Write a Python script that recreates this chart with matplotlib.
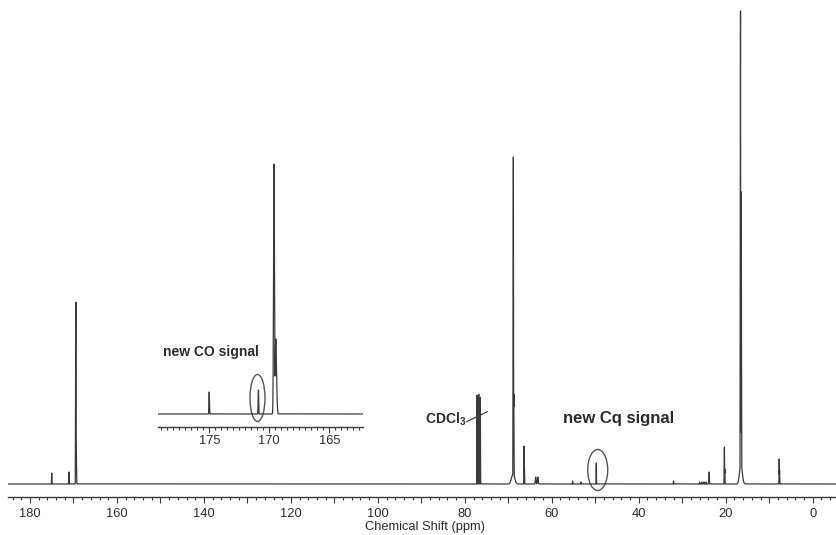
import numpy as np
import matplotlib
matplotlib.use("Agg")
import matplotlib.pyplot as plt
from matplotlib.patches import Ellipse
from matplotlib.ticker import MultipleLocator, FuncFormatter
from matplotlib.lines import Line2D

plt.rcParams['font.family'] = ['Liberation Sans', 'DejaVu Sans']
plt.rcParams['mathtext.fontset'] = 'custom'
plt.rcParams['mathtext.rm'] = 'Liberation Sans'
plt.rcParams['mathtext.bf'] = 'Liberation Sans:bold'

# ---- data (ppm, relative intensity) ----
peak_ppm = [175.0, 171.0, 169.45, 169.35,
            77.19, 76.80, 76.43,
            68.84, 68.74, 68.9,
            66.38, 66.30,
            63.7, 63.2, 55.2, 53.3,
            49.76,
            32.0, 26.0, 25.5, 25.0, 24.5, 23.8,
            20.3, 20.22,
            16.6, 16.42, 16.5,
            7.7, 7.62]
peak_height = [11, 12, 182, 35,
               89, 90, 87,
               327, 90, 10,
               38, 17,
               7, 7, 3, 2,
               21,
               3, 2, 2, 2, 2, 12,
               37, 15,
               473, 292, 20,
               25, 14]
peak_width = [0.03, 0.03, 0.04, 0.05,
              0.03, 0.03, 0.03,
              0.04, 0.05, 0.35,
              0.03, 0.04,
              0.08, 0.08, 0.03, 0.03,
              0.03,
              0.03, 0.03, 0.03, 0.03, 0.03, 0.04,
              0.03, 0.04,
              0.04, 0.05, 0.3,
              0.03, 0.04]

inset_ppm = [175.0, 170.9, 169.6, 169.45]
inset_height = [22, 24, 250, 75]
inset_width = [0.02, 0.02, 0.04, 0.06]

main_ticks_labels = [180, 160, 140, 120, 100, 80, 60, 40, 20, 0]
inset_tick_labels = [175, 170, 165]

W, H = 836, 535
col = '#3a3a3a'
tcol = '#2b2b2b'

def spectrum(x, ppm, hts, wds):
    y = np.zeros_like(x)
    for p, h, w in zip(ppm, hts, wds):
        y = np.maximum(y, h * np.exp(-0.5 * ((x - p) / w) ** 2))
    return y

fig = plt.figure(figsize=(W / 100, H / 100), dpi=100)

# ---- main axes ----
ax = fig.add_axes([8 / W, 38 / H, 828 / W, 497 / H])
ax.patch.set_alpha(0)
x = np.arange(-5.5, 185.2, 0.004)
ax.plot(x, spectrum(x, peak_ppm, peak_height, peak_width), color=col, lw=0.9)
ax.set_xlim(185.06, -5.36)
ax.set_ylim(-13, 484)
for s in ['top', 'left', 'right']:
    ax.spines[s].set_visible(False)
ax.spines['bottom'].set_color(col)
ax.spines['bottom'].set_linewidth(1.0)
ax.set_yticks([])
ax.xaxis.set_major_locator(MultipleLocator(10))
ax.xaxis.set_minor_locator(MultipleLocator(2))
ax.xaxis.set_major_formatter(FuncFormatter(
    lambda v, p: f"{int(round(v))}" if int(round(v)) in main_ticks_labels else ""))
ax.tick_params(axis='x', which='major', length=4.5, width=0.8, color=col,
               labelsize=9.3, labelcolor=tcol, pad=3.2)
ax.tick_params(axis='x', which='minor', length=2.3, width=0.8, color=col)
ax.set_xlabel("Chemical Shift (ppm)", fontsize=9.3, color=tcol, va='center')
ax.xaxis.set_label_coords((425 - 8) / 828, -30 / 497)

# Cq ellipse
ax.add_patch(Ellipse((49.44, 14), 4.6, 41, fill=False, edgecolor='#555555', lw=1.0))

# ---- inset axes ----
ia = fig.add_axes([158 / W, 108 / H, 205 / W, 277 / H])
ia.patch.set_alpha(0)
xi = np.arange(162.0, 179.5, 0.004)
ia.plot(xi, spectrum(xi, inset_ppm, inset_height, inset_width), color=col, lw=0.9)
ia.set_xlim(179.27, 162.19)
ia.set_ylim(-13, 264)
for s in ['top', 'left', 'right']:
    ia.spines[s].set_visible(False)
ia.spines['bottom'].set_color(col)
ia.spines['bottom'].set_linewidth(1.0)
ia.set_yticks([])
ia.xaxis.set_major_locator(MultipleLocator(5))
ia.xaxis.set_minor_locator(MultipleLocator(0.5))
ia.xaxis.set_major_formatter(FuncFormatter(
    lambda v, p: f"{int(round(v))}" if int(round(v)) in inset_tick_labels else ""))
ia.tick_params(axis='x', which='major', length=4, width=0.8, color=col,
               labelsize=9.3, labelcolor=tcol, pad=1.5)
ia.tick_params(axis='x', which='minor', length=2.3, width=0.8, color=col)
ia.add_patch(Ellipse((170.98, 16), 1.25, 47, fill=False, edgecolor='#555555', lw=1.0))

# ---- annotations ----
def fx(px):
    return px / W

def fy(py):
    return 1 - py / H

fig.text(fx(163), fy(352), "new CO signal", fontsize=10, fontweight='bold',
         color=tcol, ha='left', va='center')
fig.text(fx(619), fy(419), "new Cq signal", fontsize=12, fontweight='bold',
         color=tcol, ha='center', va='center')
fig.text(fx(425), fy(419), r"$\mathbf{CDCl_3}$", fontsize=10,
         color=tcol, ha='left', va='center')
fig.add_artist(Line2D([fx(466.7), fx(487.3)], [fy(421.7), fy(411.7)],
                      color='#444444', lw=0.9, transform=fig.transFigure))

fig.savefig("out.png", dpi=100)
